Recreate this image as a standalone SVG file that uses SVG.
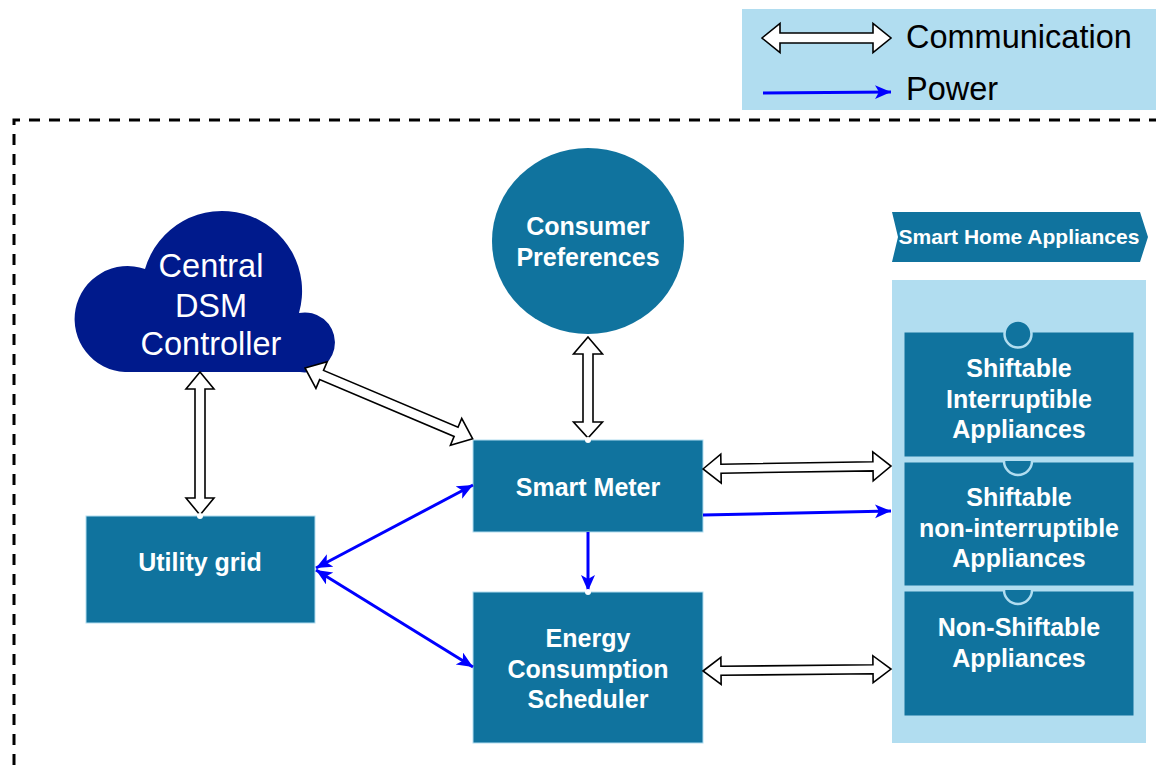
<svg xmlns="http://www.w3.org/2000/svg" width="1156" height="765" viewBox="0 0 1156 765">
  <style>
    .node { fill: #10739e; stroke: #b1ddf0; stroke-width: 1; }
    .lbl { font-family: "Liberation Sans", Arial, Helvetica, sans-serif; font-weight: bold; font-size: 25px; fill: #ffffff; text-anchor: middle; }
    .hdr { font-size: 21px; }
    .cloudlbl { font-family: "Liberation Sans", Arial, Helvetica, sans-serif; font-size: 32.5px; fill: #ffffff; text-anchor: middle; }
    .legendlbl { font-family: "Liberation Sans", Arial, Helvetica, sans-serif; font-size: 32.5px; fill: #000000; }
    .comm { fill: #ffffff; stroke: #000000; stroke-width: 1.6; stroke-linejoin: miter; }
    .power { fill: none; stroke: #0000ff; stroke-width: 3; }
    .dot { fill: #ffffff; }
  </style>
  <defs>
    <marker id="ah" markerUnits="userSpaceOnUse" markerWidth="18" markerHeight="16" refX="16" refY="7" orient="auto-start-reverse" viewBox="0 0 18 16">
      <path d="M0,0 L16,7 L0,14 L4,7 Z" fill="#0000ff"/>
    </marker>
  </defs>

  <!-- legend -->
  <g id="legend">
    <rect x="742" y="9" width="414" height="101" fill="#b1ddf0"/>
    <polygon class="comm" transform="translate(762,38)" points="0,0 18,-14.5 18,-5 111,-5 111,-14.5 129,0 111,14.5 111,5 18,5 18,14.5"/>
    <text class="legendlbl" x="906" y="48">Communication</text>
    <line class="power" x1="763" y1="93" x2="891" y2="92" marker-end="url(#ah)"/>
    <text class="legendlbl" x="906" y="100">Power</text>
  </g>

  <!-- home boundary -->
  <path d="M14,765 V120 H1156" fill="none" stroke="#000000" stroke-width="3" stroke-dasharray="11 9"/>

  <!-- Central DSM controller -->
  <g id="cloud">
    <path d="M125,372 A53,53 0 1 1 145,269 A79,79 0 1 1 299,313 A30,30 0 1 1 300,372 Z" fill="#001a8c"/>
    <text class="cloudlbl" x="211" y="277">Central</text>
    <text class="cloudlbl" x="211" y="317">DSM</text>
    <text class="cloudlbl" x="211" y="355">Controller</text>
  </g>

  <g id="consumer-preferences">
    <ellipse cx="588" cy="241" rx="96" ry="93" fill="#10739e"/>
    <text class="lbl" x="588" y="235">Consumer</text>
    <text class="lbl" x="588" y="266">Preferences</text>
  </g>

  <g id="smart-meter">
    <rect class="node" x="473" y="440" width="230" height="92"/>
    <text class="lbl" x="588" y="496">Smart Meter</text>
  </g>

  <g id="scheduler">
    <rect class="node" x="473" y="592" width="230" height="151"/>
    <text class="lbl" x="588" y="647">Energy</text>
    <text class="lbl" x="588" y="678">Consumption</text>
    <text class="lbl" x="588" y="708">Scheduler</text>
  </g>

  <g id="utility-grid">
    <rect class="node" x="86" y="516" width="229" height="107"/>
    <text class="lbl" x="200" y="571">Utility grid</text>
  </g>

  <g id="appliances-header">
    <path d="M892,212 L1140,212 L1148,237 L1140,262 L892,262 L898,237 Z" fill="#10739e"/>
    <text class="lbl hdr" x="1019" y="244">Smart Home Appliances</text>
  </g>

  <g id="appliances">
    <rect x="892" y="280" width="254" height="463" fill="#b1ddf0"/>
    <g id="shiftable-interruptible">
      <rect class="node" x="904" y="332" width="230" height="125"/>
      <circle cx="1018" cy="334" r="13.5" fill="#10739e" stroke="#b1ddf0" stroke-width="2.5"/>
      <text class="lbl" x="1019" y="377">Shiftable</text>
      <text class="lbl" x="1019" y="408">Interruptible</text>
      <text class="lbl" x="1019" y="438">Appliances</text>
    </g>
    <g id="shiftable-non-interruptible">
      <rect class="node" x="904" y="462" width="230" height="124"/>
      <path d="M1004,461 A14,14 0 0 0 1032,461" fill="#10739e" stroke="#b1ddf0" stroke-width="2.5"/>
      <text class="lbl" x="1019" y="506">Shiftable</text>
      <text class="lbl" x="1019" y="537">non-interruptible</text>
      <text class="lbl" x="1019" y="567">Appliances</text>
    </g>
    <g id="non-shiftable">
      <rect class="node" x="904" y="591" width="230" height="125"/>
      <path d="M1004,590 A14,14 0 0 0 1032,590" fill="#10739e" stroke="#b1ddf0" stroke-width="2.5"/>
      <text class="lbl" x="1019" y="636">Non-Shiftable</text>
      <text class="lbl" x="1019" y="667">Appliances</text>
    </g>
  </g>

  <!-- connectors -->
  <g id="connectors">
    <!-- communication links (double block arrows) -->
    <polygon class="comm" transform="translate(200,372) rotate(90)" points="0,0 17,-14 17,-5 126,-5 126,-14 143,0 126,14 126,5 17,5 17,14"/>
    <polygon class="comm" transform="translate(588,337) rotate(90)" points="0,0 17,-14.5 17,-5 85,-5 85,-14.5 101,0 85,14.5 85,5 17,5 17,14.5"/>
    <polygon class="comm" transform="translate(305,368) rotate(22.9)" points="0,0 18,-14.5 18,-5 164,-5 164,-14.5 182,0 164,14.5 164,5 18,5 18,14.5"/>
    <polygon class="comm" transform="translate(703,469) rotate(-0.9)" points="0,0 18,-14.5 18,-4.5 170,-4.5 170,-14.5 188,0 170,14.5 170,4.5 18,4.5 18,14.5"/>
    <polygon class="comm" transform="translate(703,671) rotate(-0.6)" points="0,0 18,-13.5 18,-4.5 170,-4.5 170,-13.5 188,0 170,13.5 170,4.5 18,4.5 18,13.5"/>

    <!-- power flows -->
    <line class="power" x1="316" y1="568" x2="473" y2="485" marker-start="url(#ah)" marker-end="url(#ah)"/>
    <line class="power" x1="316" y1="570" x2="473" y2="667" marker-start="url(#ah)" marker-end="url(#ah)"/>
    <line class="power" x1="588" y1="532" x2="588" y2="591" marker-end="url(#ah)"/>
    <line class="power" x1="703" y1="515" x2="891" y2="511" marker-end="url(#ah)"/>

    <!-- connection points -->
    <circle class="dot" cx="200" cy="516" r="3"/>
    <circle class="dot" cx="588" cy="440" r="3"/>
    <circle class="dot" cx="588" cy="592" r="3"/>
  </g>
</svg>
